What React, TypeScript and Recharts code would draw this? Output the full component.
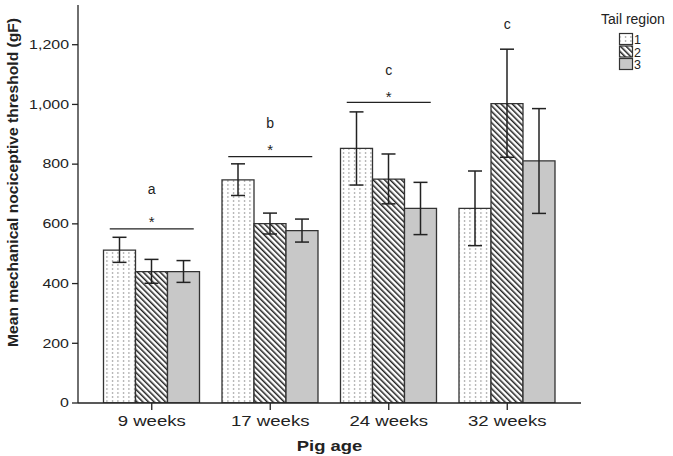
import { ComposedChart, Bar, XAxis, YAxis, ErrorBar, ReferenceDot, Label } from "recharts";

const ages = ["9 weeks", "17 weeks", "24 weeks", "32 weeks"];
const seriesNames = ["1", "2", "3"];

// means per tail region
const region1 = [512, 747, 853, 652];
const region2 = [440, 601, 750, 1003];
const region3 = [440, 577, 652, 811];

// error bar ends (low / high)
const region1Low = [471, 695, 730, 527];
const region1High = [555, 801, 975, 777];
const region2Low = [401, 566, 667, 823];
const region2High = [481, 636, 834, 1185];
const region3Low = [404, 539, 564, 635];
const region3High = [477, 616, 739, 986];

const yTicks = [0, 200, 400, 600, 800, 1000, 1200];

// significance annotations
const sigAges = ["9 weeks", "17 weeks", "24 weeks"];
const sigLineLevel = [583, 825, 1007];
const sigStarLevel = [616, 859, 1037];
const letters = ["a", "b", "c", "c"];
const letterLevel = [714, 935, 1114, 1266];

const FONT = "'Liberation Sans', Arial, sans-serif";
const INK = "#222";
const FILLS = ["url(#dots)", "url(#hatch)", "#c8c8c8"];

const data = ages.map((age, i) => ({
  age,
  r1: region1[i],
  r2: region2[i],
  r3: region3[i],
  r1Err: [region1[i] - region1Low[i], region1High[i] - region1[i]],
  r2Err: [region2[i] - region2Low[i], region2High[i] - region2[i]],
  r3Err: [region3[i] - region3Low[i], region3High[i] - region3[i]],
}));

const XTick = ({ x, y, payload }: any) => (
  <g transform={`translate(${x},${y})`}>
    <text transform="scale(1.24,1)" textAnchor="middle" dy="0.71em" fontSize={15} fill={INK} fontFamily={FONT}>
      {payload.value}
    </text>
  </g>
);

const YTick = ({ x, y, payload }: any) => (
  <g transform={`translate(${x},${y})`}>
    <text transform="scale(1.33,1)" textAnchor="end" dy="0.355em" fontSize={12} fill={INK} fontFamily={FONT}>
      {Number(payload.value).toLocaleString("en-US")}
    </text>
  </g>
);

const YLabel = ({ viewBox }: any) => {
  const cx = viewBox.x + 17.5;
  const cy = viewBox.y + viewBox.height / 2 - 21.5;
  return (
    <text
      x={cx}
      y={cy}
      transform={`rotate(-90,${cx},${cy})`}
      textAnchor="middle"
      fontSize={14}
      fontWeight="bold"
      fill={INK}
      fontFamily={FONT}
      textLength={329}
      lengthAdjust="spacingAndGlyphs"
    >
      Mean mechanical nociceptive threshold (gF)
    </text>
  );
};

const XLabel = ({ viewBox }: any) => (
  <g transform={`translate(${viewBox.x + viewBox.width / 2},${viewBox.y + 48})`}>
    <text transform="scale(1.23,1)" textAnchor="middle" fontSize={15} fontWeight="bold" fill={INK} fontFamily={FONT}>
      Pig age
    </text>
  </g>
);

const textMark = (txt: string, size: number, dy: string) => (p: any) => (
  <text x={p.cx} y={p.cy} dy={dy} textAnchor="middle" fontSize={size} fill={INK} fontFamily={FONT}>
    {txt}
  </text>
);

const sigLine = (p: any) => (
  <line x1={p.cx - 42} x2={p.cx + 42} y1={p.cy} y2={p.cy} stroke={INK} strokeWidth={1.3} />
);

const Patterns = () => (
  <svg width={0} height={0} style={{ position: "absolute" }}>
    <defs>
      <pattern id="dots" patternUnits="userSpaceOnUse" width={5.5} height={4}>
        <rect width={5.5} height={4} fill="#fff" />
        <rect x={2} y={0} width={1} height={2} fill="#999" />
      </pattern>
      <pattern id="hatch" patternUnits="userSpaceOnUse" width={4} height={8} patternTransform="rotate(-45)">
        <rect width={4} height={8} fill="#fff" />
        <rect x={0} y={0} width={1.5} height={8} fill="#222" />
      </pattern>
    </defs>
  </svg>
);

const TailLegend = () => (
  <svg width={83} height={80} style={{ position: "absolute", left: 590, top: 0 }}>
    <text x={11} y={23.5} fontSize={14} fill={INK} fontFamily={FONT}>
      Tail region
    </text>
    {seriesNames.map((name, i) => (
      <g key={name}>
        <rect x={29.5} y={33.5 + i * 12.5} width={13} height={11} fill={FILLS[i]} stroke="#333" strokeWidth={1.2} />
        <text x={44} y={44 + i * 12.5} fontSize={11} fill={INK} fontFamily={FONT} transform={`scale(1,1)`}>
          <tspan fontSize={12.5}>{name}</tspan>
        </text>
      </g>
    ))}
  </svg>
);

export default function App() {
  return (
    <div style={{ position: "absolute", left: 0, top: 0, width: 673, height: 456, background: "#fff" }}>
      <Patterns />
      <ComposedChart
        width={673}
        height={456}
        data={data}
        margin={{ top: 5, right: 92, bottom: 0, left: 0 }}
        barCategoryGap={11}
        barGap={0}
      >
        <XAxis
          dataKey="age"
          height={53}
          padding={{ left: 14.5, right: 14.5 }}
          tick={<XTick />}
          tickSize={7}
          tickMargin={5}
          axisLine={{ stroke: INK, strokeWidth: 1.3 }}
          tickLine={{ stroke: INK, strokeWidth: 1.3 }}
          interval={0}
        >
          <Label content={XLabel} />
        </XAxis>
        <XAxis
          xAxisId="top"
          dataKey="age"
          orientation="top"
          height={0}
          tick={false}
          tickLine={false}
          axisLine={{ stroke: INK, strokeWidth: 1.3 }}
        />
        <YAxis
          width={78}
          domain={[0, 1333]}
          ticks={yTicks}
          allowDataOverflow
          tick={<YTick />}
          tickSize={6}
          tickMargin={3}
          axisLine={{ stroke: INK, strokeWidth: 1.3 }}
          tickLine={{ stroke: INK, strokeWidth: 1.3 }}
        >
          <Label content={YLabel} />
        </YAxis>
        <YAxis
          yAxisId="right"
          orientation="right"
          width={0}
          domain={[0, 1333]}
          tick={false}
          tickLine={false}
          axisLine={{ stroke: INK, strokeWidth: 1.3 }}
        />
        {["r1", "r2", "r3"].map((key, i) => (
          <Bar key={key} dataKey={key} fill={FILLS[i]} stroke="#333" strokeWidth={1.3} isAnimationActive={false}>
            <ErrorBar dataKey={`${key}Err`} direction="y" width={7} stroke={INK} strokeWidth={1.5} />
          </Bar>
        ))}
        {sigAges.map((age, i) => (
          <ReferenceDot key={`line-${age}`} x={age} y={sigLineLevel[i]} shape={sigLine} />
        ))}
        {sigAges.map((age, i) => (
          <ReferenceDot key={`star-${age}`} x={age} y={sigStarLevel[i]} shape={textMark("*", 15, "0.55em")} />
        ))}
        {ages.map((age, i) => (
          <ReferenceDot key={`letter-${age}`} x={age} y={letterLevel[i]} shape={textMark(letters[i], 14, "0.3em")} />
        ))}
      </ComposedChart>
      <TailLegend />
    </div>
  );
}
